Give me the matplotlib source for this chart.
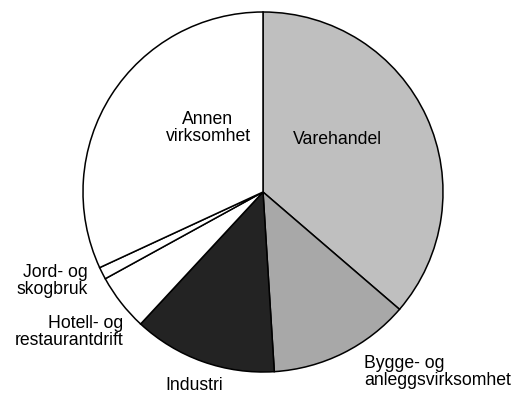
import matplotlib
matplotlib.use("Agg")
import matplotlib.pyplot as plt

# Sector shares (percent), clockwise from 12 o'clock
categories = ["Varehandel", "Bygge- og\nanleggsvirksomhet", "Industri",
              "Hotell- og\nrestaurantdrift", "Jord- og\nskogbruk",
              "Annen\nvirksomhet"]
shares = [36.3, 12.7, 12.9, 5.1, 1.1, 31.9]
fills = ["#bfbfbf", "#a8a8a8", "#232323", "#ffffff", "#ffffff", "#ffffff"]

W, H = 517, 395
fig = plt.figure(figsize=(W / 100, H / 100), dpi=100)
ax = fig.add_axes([0, 0, 1, 1])

cx, cy, r = 263, H - 192, 180
ax.pie(shares, colors=fills, startangle=90, counterclock=False,
       center=(cx, cy), radius=r, frame=False,
       wedgeprops=dict(edgecolor="black", linewidth=1.1))

ax.set_xlim(0, W)
ax.set_ylim(0, H)
ax.set_aspect("equal")
ax.axis("off")

font = dict(family=["Liberation Sans", "DejaVu Sans"], fontsize=12.7,
            color="black", linespacing=1.0)

# label placements (x, y from top, horizontal alignment)
label_pos = [
    (337, 139, "center"),
    (364, 372, "left"),
    (194, 386, "center"),
    (123, 332, "right"),
    (88, 281, "right"),
    (208, 128, "center"),
]
for text, (x, y, ha) in zip(categories, label_pos):
    ax.text(x, H - y, text, ha=ha, va="center", **font)

fig.savefig("out.png", dpi=100, facecolor="white")
